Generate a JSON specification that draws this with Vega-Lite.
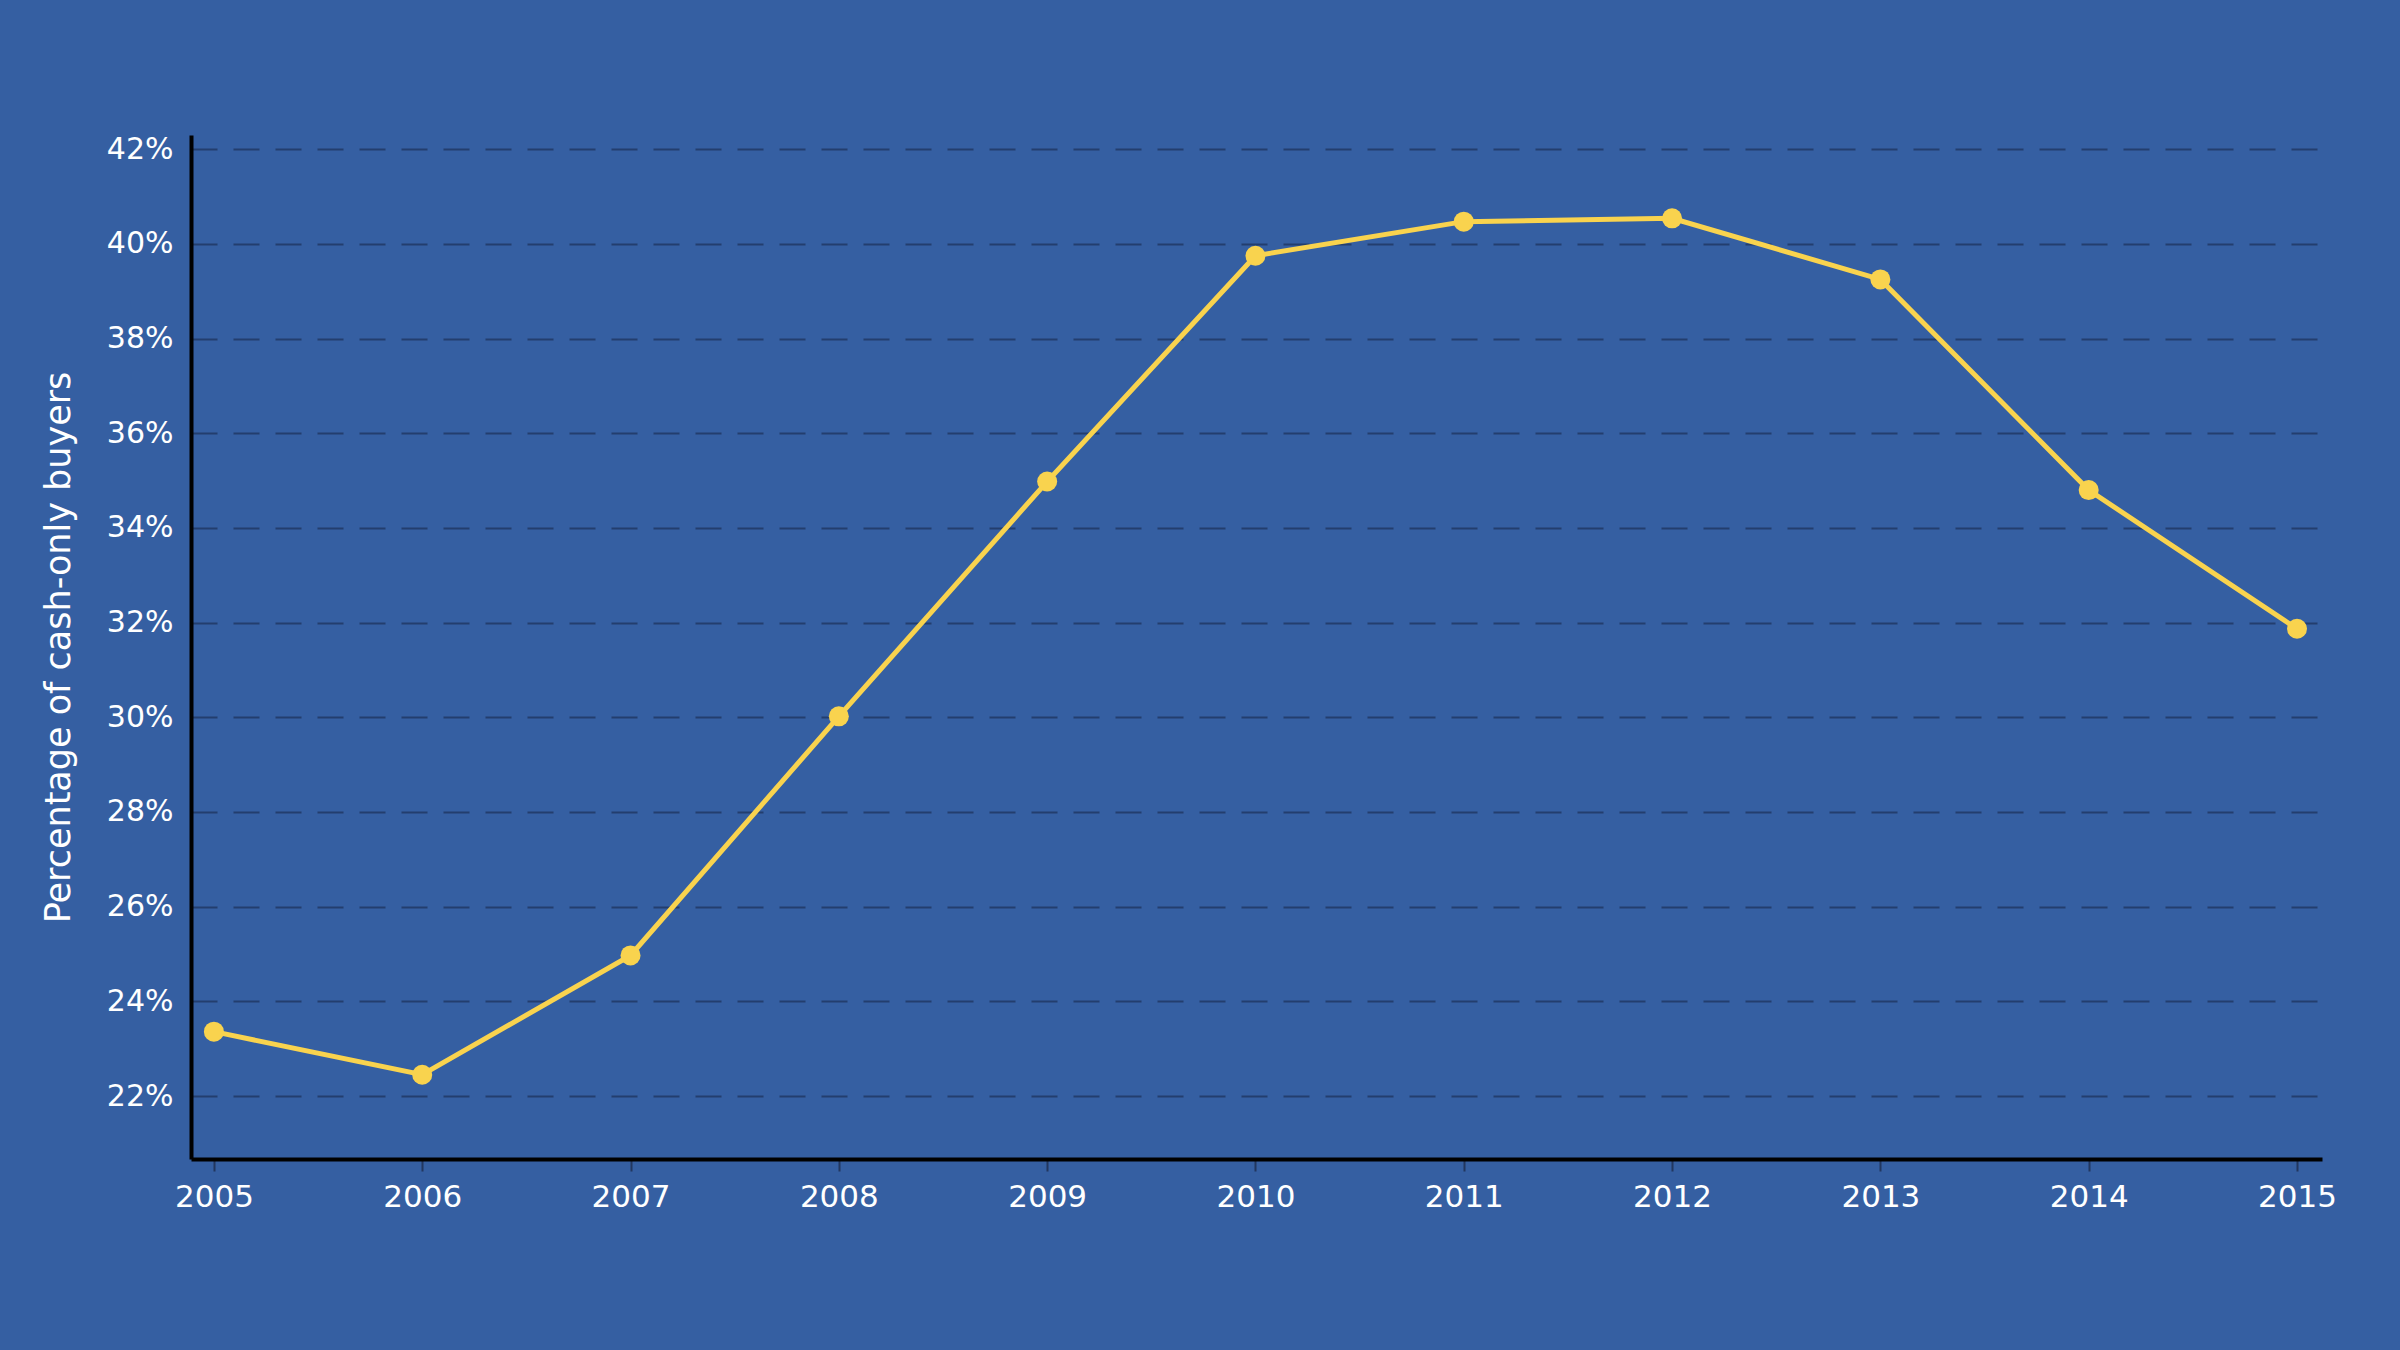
{
  "$schema": "https://vega.github.io/schema/vega-lite/v6.json",
  "autosize": "none",
  "width": 2131,
  "height": 1024,
  "padding": {"left": 191, "top": 135, "right": 78, "bottom": 191},
  "background": "#355FA2",
  "config": {
    "view": {"stroke": null},
    "font": "DejaVu Sans"
  },
  "data": {
    "values": [
      {"year": 2005, "pct": 23.36},
      {"year": 2006, "pct": 22.45},
      {"year": 2007, "pct": 24.97},
      {"year": 2008, "pct": 30.02},
      {"year": 2009, "pct": 34.98},
      {"year": 2010, "pct": 39.75},
      {"year": 2011, "pct": 40.47},
      {"year": 2012, "pct": 40.54},
      {"year": 2013, "pct": 39.25},
      {"year": 2014, "pct": 34.8},
      {"year": 2015, "pct": 31.87}
    ]
  },
  "encoding": {
    "x": {
      "field": "year",
      "type": "quantitative",
      "scale": {"domain": [2004.89, 2015.12], "nice": false, "zero": false},
      "axis": {
        "values": [2005, 2006, 2007, 2008, 2009, 2010, 2011, 2012, 2013, 2014, 2015],
        "format": "d",
        "title": null,
        "grid": false,
        "domainColor": "#000000",
        "domainWidth": 4,
        "tickColor": "#22375F",
        "tickWidth": 2,
        "tickSize": 12,
        "labelColor": "#FFFFFF",
        "labelFontSize": 31,
        "labelFont": "DejaVu Sans",
        "labelPadding": 11,
        "labelFlush": false
      }
    },
    "y": {
      "field": "pct",
      "type": "quantitative",
      "scale": {"domain": [20.67, 42.3], "nice": false, "zero": false},
      "axis": {
        "values": [22, 24, 26, 28, 30, 32, 34, 36, 38, 40, 42],
        "labelExpr": "datum.value + '%'",
        "title": "Percentage of cash-only buyers",
        "titleColor": "#FFFFFF",
        "titleFontSize": 35,
        "titleFontWeight": "normal",
        "titleFont": "DejaVu Sans",
        "titlePadding": 30,
        "grid": true,
        "gridColor": "#213B68",
        "gridWidth": 2,
        "gridDash": [26, 16],
        "gridOpacity": 0.9,
        "domainColor": "#000000",
        "domainWidth": 4,
        "ticks": false,
        "labelColor": "#FFFFFF",
        "labelFontSize": 30,
        "labelFont": "DejaVu Sans",
        "labelPadding": 18
      }
    }
  },
  "layer": [
    {
      "mark": {"type": "line", "color": "#F9D34E", "strokeWidth": 5}
    },
    {
      "mark": {"type": "point", "filled": true, "color": "#F9D34E", "size": 400, "opacity": 1}
    }
  ]
}
